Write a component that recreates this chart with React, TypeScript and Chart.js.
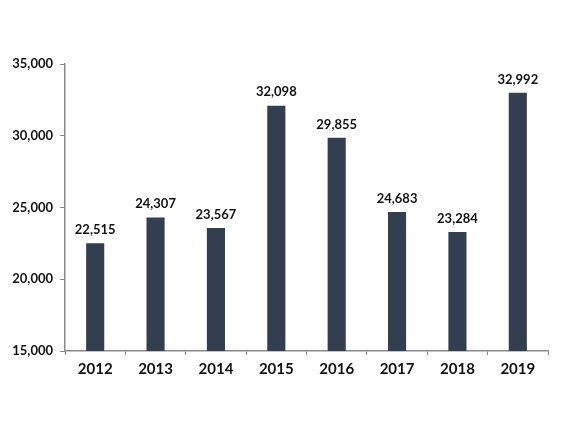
import React, { useEffect, useRef } from "react";
import { Chart, registerables } from "chart.js";

Chart.register(...registerables);

const years = ["2012", "2013", "2014", "2015", "2016", "2017", "2018", "2019"];
const values = [22515, 24307, 23567, 32098, 29855, 24683, 23284, 32992];
const yMin = 15000;
const yMax = 35000;
const yStep = 5000;

const FONT = "Lato, 'Liberation Sans', sans-serif";
const BAR_COLOR = "#333f50";
const AXIS_COLOR = "#8a8a8a";

const valueLabels = {
  id: "valueLabels",
  afterDatasetsDraw(chart: any) {
    const ctx = chart.ctx;
    const meta = chart.getDatasetMeta(0);
    ctx.save();
    ctx.font = `bold 13px ${FONT}`;
    ctx.fillStyle = "#111";
    ctx.textAlign = "center";
    ctx.textBaseline = "bottom";
    meta.data.forEach((bar: any, i: number) => {
      const v = values[i];
      ctx.fillText(v.toLocaleString("en-US"), bar.x, bar.y - 7);
    });
    ctx.restore();
  },
};

export default function App() {
  const ref = useRef<HTMLCanvasElement>(null);
  useEffect(() => {
    if (!ref.current) return;
    const chart = new Chart(ref.current, {
      type: "bar",
      data: {
        labels: years,
        datasets: [
          {
            data: values,
            backgroundColor: BAR_COLOR,
            barPercentage: 0.6,
            categoryPercentage: 0.5,
          },
        ],
      },
      options: {
        responsive: false,
        animation: false,
        maintainAspectRatio: false,
        layout: { padding: { top: 64, right: 18, left: 0, bottom: 0 } },
        plugins: { legend: { display: false }, tooltip: { enabled: false } },
        scales: {
          x: {
            grid: {
              drawOnChartArea: false,
              drawTicks: true,
              tickLength: 4,
              color: AXIS_COLOR,
              offset: true,
            },
            border: { color: AXIS_COLOR, width: 1.5 },
            ticks: {
              color: "#111",
              padding: 5,
              font: { family: FONT, size: 15, weight: "bold" },
            },
            afterFit(scale: any) {
              scale.height = 74;
            },
          },
          y: {
            min: yMin,
            max: yMax,
            grid: {
              drawOnChartArea: false,
              drawTicks: true,
              tickLength: 5,
              color: AXIS_COLOR,
            },
            border: { color: AXIS_COLOR, width: 1.5 },
            ticks: {
              stepSize: yStep,
              color: "#111",
              padding: 7,
              font: { family: FONT, size: 13, weight: "bold" },
              callback: (v: any) => Number(v).toLocaleString("en-US"),
            },
            afterFit(scale: any) {
              scale.width = 65;
            },
          },
        },
      },
      plugins: [valueLabels],
    });
    return () => chart.destroy();
  }, []);
  return (
    <div style={{ position: "fixed", left: 0, top: 0, width: 566, height: 425, background: "#fff" }}>
      <canvas ref={ref} width={566} height={425} style={{ width: 566, height: 425 }} />
    </div>
  );
}
